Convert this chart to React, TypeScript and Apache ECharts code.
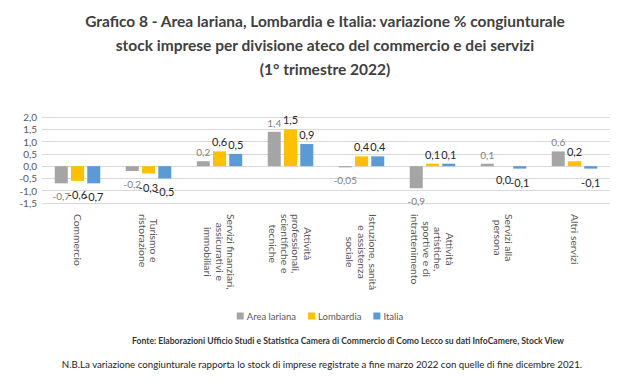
import React, { useEffect, useRef } from "react";
import * as echarts from "echarts";

const categories = [
  "Commercio",
  "Turismo e\nristorazione",
  "Servizi finanziari,\nassicurativi e\nimmobiliari",
  "Attività\nprofessionali,\nscientifiche e\ntecniche",
  "Istruzione, sanità\ne assistenza\nsociale",
  "Attività\nartistiche,\nsportive e di\nintrattenimento",
  "Servizi alla\npersona",
  "Altri servizi",
];
const areaLariana = [-0.7, -0.2, 0.2, 1.4, -0.05, -0.9, 0.1, 0.6];
const lombardia = [-0.6, -0.3, 0.6, 1.5, 0.4, 0.1, 0.0, 0.2];
const italia = [-0.7, -0.5, 0.5, 0.9, 0.4, 0.1, -0.1, -0.1];
const seriesNames = ["Area lariana", "Lombardia", "Italia"];
const colors = ["#A5A5A5", "#FFC000", "#5B9BD5"];

const titleText =
  "Grafico 8 - Area lariana, Lombardia e Italia: variazione % congiunturale\nstock imprese per divisione ateco del commercio e dei servizi\n(1° trimestre 2022)";
const sourceText =
  "Fonte: Elaborazioni Ufficio Studi e Statistica Camera di Commercio di Como Lecco su dati InfoCamere, Stock View";
const noteText =
  "N.B.La variazione congiunturale rapporta lo stock di imprese registrate a fine marzo 2022 con quelle di fine dicembre 2021.";

const FONT = "Lato, 'Open Sans', sans-serif";

const fmt = (v: number) => {
  const s = Math.abs(v * 10 - Math.round(v * 10)) > 1e-6 ? v.toFixed(2) : v.toFixed(1);
  return s.replace(".", ",");
};

function mkSeries(name: string, values: number[], color: string, labelColor: string, labelSize: number) {
  return {
    name,
    type: "bar",
    barWidth: 13,
    barGap: "25%",
    itemStyle: { color },
    data: values.map((v) => ({
      value: v,
      label: { position: v > 0 ? "top" : "bottom", distance: v > 0 ? 4 : 8 },
    })),
    label: {
      show: true,
      color: labelColor,
      fontSize: labelSize,
      fontFamily: FONT,
      formatter: (p: any) => fmt(p.value),
    },
  };
}

export default function App() {
  const ref = useRef<HTMLDivElement>(null);
  useEffect(() => {
    if (!ref.current) return;
    const chart = echarts.init(ref.current, undefined, { renderer: "svg" });
    chart.setOption({
      animation: false,
      backgroundColor: "#ffffff",
      title: [
        {
          text: titleText,
          left: 320,
          top: 4,
          textAlign: "center",
          textStyle: {
            fontFamily: FONT,
            fontWeight: "bold",
            fontSize: 15.5,
            lineHeight: 24,
            color: "#404040",
          },
        },
        {
          text: sourceText,
          left: 343,
          top: 331,
          textAlign: "center",
          textStyle: { fontFamily: FONT, fontWeight: "bold", fontSize: 8.6, color: "#333333" },
        },
        {
          text: noteText,
          left: 317,
          top: 354,
          textAlign: "center",
          textStyle: { fontFamily: FONT, fontWeight: "normal", fontSize: 9.7, color: "#222222" },
        },
      ],
      legend: {
        data: seriesNames,
        top: 306,
        left: "center",
        icon: "rect",
        itemWidth: 7,
        itemHeight: 7,
        itemGap: 12,
        textStyle: { fontFamily: FONT, fontSize: 9.5, color: "#595959", padding: [0, 0, 0, -2] },
      },
      grid: { left: 42, right: 30, top: 117, bottom: 176, containLabel: false },
      xAxis: {
        type: "category",
        data: categories,
        axisLine: { show: false },
        axisTick: { show: false },
        axisLabel: {
          rotate: -90,
          margin: 11,
          interval: 0,
          formatter: (v: string) => v.split("\n").map((l) => `{c|${l}}`).join("\n"),
          rich: {
            c: {
              align: "center",
              fontFamily: FONT,
              fontSize: 10.3,
              lineHeight: 11.5,
              color: "#595959",
            },
          },
        },
      },
      yAxis: {
        type: "value",
        min: -1.5,
        max: 2.0,
        interval: 0.5,
        axisLine: { show: false },
        axisTick: { show: false },
        splitLine: { lineStyle: { color: "#D9D9D9", width: 1 } },
        axisLabel: {
          fontFamily: FONT,
          fontSize: 10,
          color: "#595959",
          margin: 5,
          formatter: (v: number) => v.toFixed(1).replace(".", ","),
        },
      },
      series: [
        mkSeries(seriesNames[0], areaLariana, colors[0], "#7F7F7F", 10),
        mkSeries(seriesNames[1], lombardia, colors[1], "#262626", 11),
        mkSeries(seriesNames[2], italia, colors[2], "#262626", 11),
      ],
    });
    return () => chart.dispose();
  }, []);
  return <div ref={ref} style={{ width: 640, height: 379, margin: -8 }} />;
}
